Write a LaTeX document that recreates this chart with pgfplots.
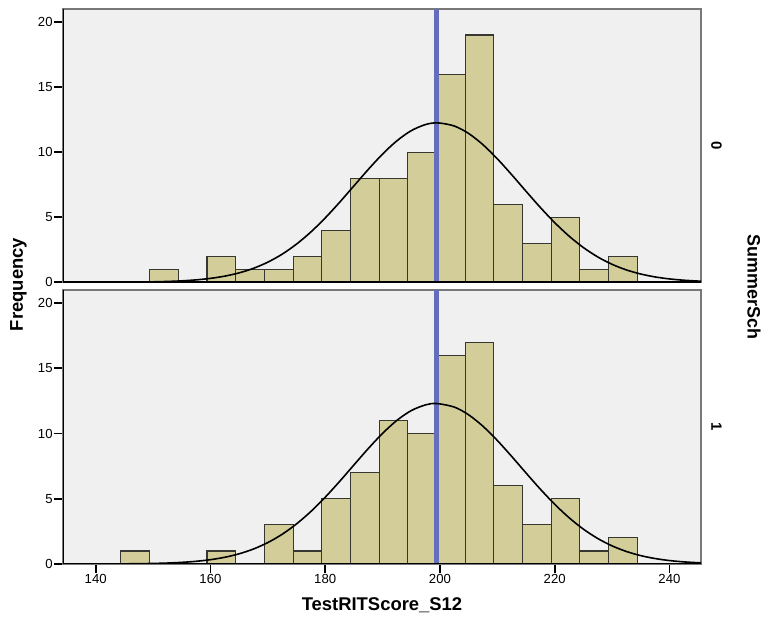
\documentclass[border=0pt]{standalone}
\usepackage{pgfplots}
\pgfplotsset{compat=1.18}
\usepackage{fontspec}
\setmainfont{Liberation Sans}
\definecolor{bg}{RGB}{240,240,240}
\definecolor{barfill}{RGB}{211,206,153}
\definecolor{baredge}{RGB}{55,55,50}
\definecolor{meanblue}{RGB}{100,110,186}
\definecolor{framegray}{RGB}{120,120,120}

\pgfplotsset{
  panel/.style={
    scale only axis, width=638bp,
    xmin=134.3, xmax=245.5, ymin=0, ymax=21,
    axis background/.style={fill=bg},
    axis line style={draw=framegray, line width=1.5bp},
    ytick={0,5,10,15,20},
    tick style={black, line width=1.6bp},
    major tick length=9bp,
    tick align=outside,
    ytick pos=left, xtick pos=bottom,
    ticklabel style={font=\fontsize{13.2}{13.2}\selectfont, inner sep=1.2bp},
    /pgf/number format/assume math mode=true,
    clip=true,
  },
  histbars/.style={ybar interval, fill=barfill, draw=baredge, line width=1.1bp},
  normcurve/.style={black, line width=1.6bp, smooth},
  meanline/.style={meanblue, line width=4.5bp},
}

\begin{document}
\begin{tikzpicture}
\path[use as bounding box] (-63bp,-60bp) rectangle (700bp,564bp);

% ---------- top panel: SummerSch = 0 ----------
\begin{axis}[panel, at={(0bp,281.7bp)}, anchor=south west, height=273.3bp, xtick=\empty]
\addplot[histbars] coordinates {
(149.4,1) (154.4,0) (159.4,2) (164.4,1) (169.4,1) (174.4,2) (179.4,4) (184.4,8)
(189.4,8) (194.4,10) (199.4,16) (204.4,19) (209.4,6) (214.4,3) (219.4,5)
(224.4,1) (229.4,2) (234.4,0)};
\addplot[meanline] coordinates {(199.4,0) (199.4,21)};
\addplot[normcurve] coordinates {
(135,0.0006) (137.5,0.0014) (140,0.0028) (142.5,0.0055) (145,0.0107) (147.5,0.0201)
(150,0.0367) (152.5,0.0649) (155,0.1116) (157.5,0.186) (160,0.302) (162.5,0.474)
(165,0.724) (167.5,1.074) (170,1.547) (172.5,2.162) (175,2.934) (177.5,3.865)
(180,4.944) (182.5,6.141) (185,7.405) (187.5,8.669) (190,9.854) (192.5,10.874)
(195,11.652) (197.5,12.123) (199.6,12.25) (202.5,12.009) (205,11.434) (207.5,10.572)
(210,9.488) (212.5,8.269) (215,6.997) (217.5,5.748) (220,4.584) (222.5,3.550)
(225,2.669) (227.5,1.949) (230,1.381) (232.5,0.950) (235,0.635) (237.5,0.412)
(240,0.259) (242.5,0.159) (245,0.094) (245.5,0.085)};
\draw[black, line width=1.8bp] (rel axis cs:0,1) -- (rel axis cs:0,0) -- (rel axis cs:1,0);
\end{axis}

% ---------- bottom panel: SummerSch = 1 ----------
\begin{axis}[panel, at={(0bp,0bp)}, anchor=south west, height=274bp,
  xtick={140,160,180,200,220,240}]
\addplot[histbars] coordinates {
(144.4,1) (149.4,0) (154.4,0) (159.4,1) (164.4,0) (169.4,3) (174.4,1) (179.4,5)
(184.4,7) (189.4,11) (194.4,10) (199.4,16) (204.4,17) (209.4,6) (214.4,3)
(219.4,5) (224.4,1) (229.4,2) (234.4,0)};
\addplot[meanline] coordinates {(199.4,0) (199.4,21)};
\addplot[normcurve] coordinates {
(135,0.0008) (137.5,0.0016) (140,0.0033) (142.5,0.0065) (145,0.0125) (147.5,0.0232)
(150,0.0418) (152.5,0.0732) (155,0.1245) (157.5,0.206) (160,0.331) (162.5,0.516)
(165,0.781) (167.5,1.149) (170,1.642) (172.5,2.278) (175,3.073) (177.5,4.023)
(180,5.118) (182.5,6.323) (185,7.588) (187.5,8.844) (190,10.012) (192.5,11.009)
(195,11.758) (197.5,12.197) (199.4,12.30) (202.5,12.028) (205,11.433) (207.5,10.557)
(210,9.467) (212.5,8.247) (215,6.978) (217.5,5.734) (220,4.577) (222.5,3.549)
(225,2.672) (227.5,1.955) (230,1.389) (232.5,0.958) (235,0.642) (237.5,0.418)
(240,0.264) (242.5,0.162) (245,0.097) (245.5,0.088)};
\draw[black, line width=1.8bp] (rel axis cs:0,1) -- (rel axis cs:0,0) -- (rel axis cs:1,0);
\end{axis}

% ---------- titles ----------
\node[font=\fontsize{18.5}{18.5}\selectfont\bfseries, rotate=90] at (-44.5bp,279.5bp) {Frequency};
\node[font=\fontsize{18.5}{18.5}\selectfont\bfseries] at (319bp,-41bp) {TestRITScore\_S12};
\node[font=\fontsize{18}{18}\selectfont\bfseries, rotate=-90] at (691bp,277bp) {SummerSch};
\node[font=\fontsize{15}{15}\selectfont\bfseries, rotate=-90] at (653.5bp,418bp) {0};
\node[font=\fontsize{15}{15}\selectfont\bfseries, rotate=-90] at (653.5bp,137bp) {1};
\end{tikzpicture}
\end{document}
